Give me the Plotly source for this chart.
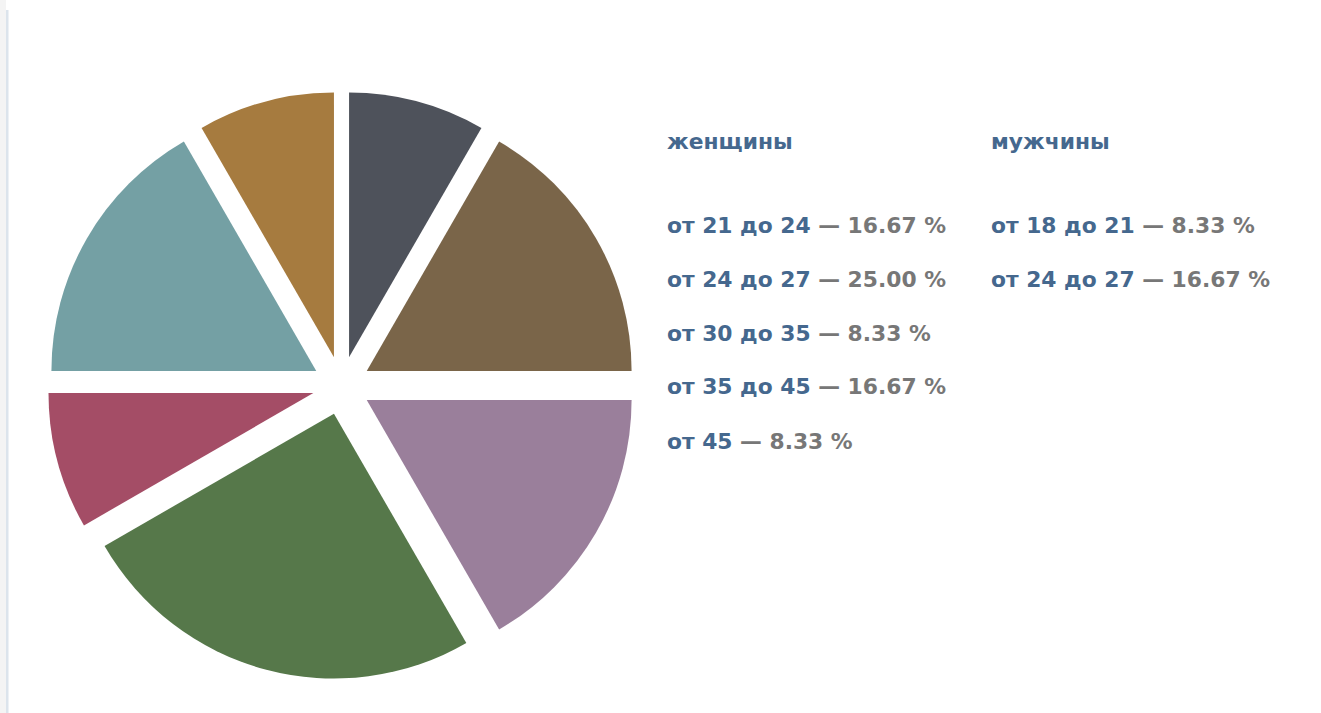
import plotly.graph_objects as go

W, H = 1321, 713

women_labels = ["от 21 до 24", "от 24 до 27", "от 30 до 35", "от 35 до 45", "от 45"]
women_values = [16.67, 25.00, 8.33, 16.67, 8.33]
men_labels = ["от 18 до 21", "от 24 до 27"]
men_values = [8.33, 16.67]

men_colors = ["#4e525b", "#7a6549"]
women_colors = ["#9a7f9b", "#56784a", "#a44d66", "#74a0a4", "#a67b3f"]

slice_labels = ["мужчины " + l for l in men_labels] + ["женщины " + l for l in women_labels]
slice_values = men_values + women_values
slice_colors = men_colors + women_colors

LABEL_COLOR = "#45688e"
PCT_COLOR = "#777777"
FONT = "DejaVu Sans"
FSIZE = 21.8

fig = go.Figure()
fig.add_trace(go.Pie(
    labels=slice_labels,
    values=slice_values,
    sort=False,
    direction="clockwise",
    rotation=0,
    pull=0.11,
    marker=dict(colors=slice_colors, line=dict(width=0)),
    textinfo="none",
    hoverinfo="label+percent",
    showlegend=False,
    domain=dict(x=[47.5 / W, 635.5 / W], y=[1 - 679.5 / H, 1 - 91.5 / H]),
))

def px(x):
    return x / W

def py(y):
    return 1 - y / H

anns = []
def add_text(x, y, text):
    anns.append(dict(x=px(x), y=py(y), xref="paper", yref="paper",
                     xanchor="left", yanchor="middle", showarrow=False,
                     text=text, font=dict(family=FONT, size=FSIZE, color=LABEL_COLOR)))

add_text(665, 141, "<b>женщины</b>")
add_text(989, 141, "<b>мужчины</b>")

row_y = [225, 279, 333, 387, 441]
for i, (l, v) in enumerate(zip(women_labels, women_values)):
    add_text(665, row_y[i],
             f"<b>{l}</b><span style='color:{PCT_COLOR}'><b> — {v:.2f} %</b></span>")
for i, (l, v) in enumerate(zip(men_labels, men_values)):
    add_text(989, row_y[i],
             f"<b>{l}</b><span style='color:{PCT_COLOR}'><b> — {v:.2f} %</b></span>")

fig.update_layout(
    width=W, height=H,
    margin=dict(l=0, r=0, t=0, b=0),
    paper_bgcolor="white",
    plot_bgcolor="white",
    annotations=anns,
    shapes=[
        dict(type="rect", xref="paper", yref="paper", x0=0, x1=px(6), y0=0, y1=1,
             fillcolor="#f4f4f4", line=dict(width=0), layer="below"),
        dict(type="rect", xref="paper", yref="paper", x0=px(6), x1=px(8.5), y0=0, y1=py(10),
             fillcolor="#dce4ec", line=dict(width=0), layer="below"),
    ],
)

fig.write_html("out.html", config={"displayModeBar": False},
               post_script="document.body.style.margin='0';")
